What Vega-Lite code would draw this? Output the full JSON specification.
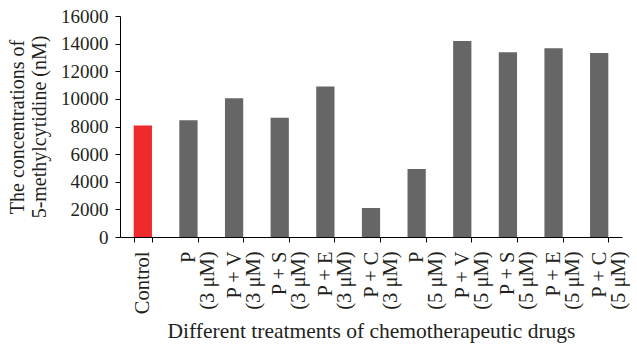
{
  "$schema": "https://vega.github.io/schema/vega-lite/v6.json",
  "autosize": "none",
  "width": 502,
  "height": 221,
  "padding": {"left": 120, "top": 16, "right": 15, "bottom": 112},
  "background": "white",
  "data": {
    "values": [
      {"treatment": "Control", "group": "control", "value": 8080},
      {"treatment": "P|(3 μM)", "group": "treated", "value": 8450},
      {"treatment": "P + V|(3 μM)", "group": "treated", "value": 10040},
      {"treatment": "P + S|(3 μM)", "group": "treated", "value": 8640},
      {"treatment": "P + E|(3 μM)", "group": "treated", "value": 10890},
      {"treatment": "P + C|(3 μM)", "group": "treated", "value": 2100},
      {"treatment": "P|(5 μM)", "group": "treated", "value": 4920},
      {"treatment": "P + V|(5 μM)", "group": "treated", "value": 14190},
      {"treatment": "P + S|(5 μM)", "group": "treated", "value": 13370},
      {"treatment": "P + E|(5 μM)", "group": "treated", "value": 13660},
      {"treatment": "P + C|(5 μM)", "group": "treated", "value": 13320}
    ]
  },
  "mark": {"type": "bar"},
  "encoding": {
    "x": {
      "field": "treatment",
      "type": "nominal",
      "sort": null,
      "scale": {"paddingInner": 0.6, "paddingOuter": 0.3},
      "axis": {
        "title": "Different treatments of chemotherapeutic drugs",
        "labelAngle": 270,
        "labelExpr": "split(datum.label, '|')",
        "labelLineHeight": 19,
        "labelFontSize": 20.5,
        "tickBand": "extent",
        "tickSize": 5,
        "labelPadding": 9,
        "titlePadding": 7,
        "titleFontSize": 21.5
      }
    },
    "y": {
      "field": "value",
      "type": "quantitative",
      "scale": {"domain": [0, 16000]},
      "axis": {
        "title": ["The concentrations of", "5-methylcytidine (nM)"],
        "values": [0, 2000, 4000, 6000, 8000, 10000, 12000, 14000, 16000],
        "format": "d",
        "grid": false,
        "tickSize": 5,
        "labelPadding": 7,
        "labelFontSize": 19,
        "titlePadding": 11,
        "titleFontSize": 20,
        "titleLineHeight": 22
      }
    },
    "color": {
      "field": "group",
      "type": "nominal",
      "scale": {"domain": ["control", "treated"], "range": ["#EE2A2A", "#666666"]},
      "legend": null
    }
  },
  "config": {
    "view": {"stroke": null},
    "font": "Liberation Serif",
    "axis": {
      "domainColor": "#000000",
      "tickColor": "#000000",
      "labelColor": "#231F20",
      "titleColor": "#231F20",
      "labelFont": "Liberation Serif",
      "titleFont": "Liberation Serif",
      "titleFontWeight": "normal"
    }
  }
}
